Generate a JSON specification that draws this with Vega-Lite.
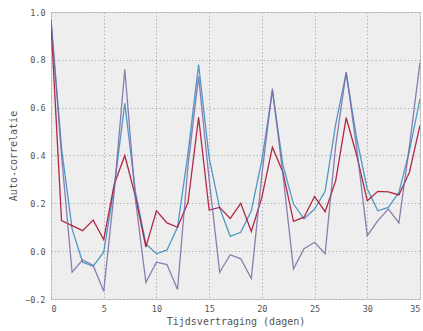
{
  "$schema": "https://vega.github.io/schema/vega-lite/v6.json",
  "autosize": {"type": "none"},
  "padding": {"left": 51, "top": 12, "right": 3, "bottom": 32},
  "width": 369,
  "height": 287,
  "background": "white",
  "config": {
    "view": {"fill": "#eeeeee", "stroke": "#cccccc", "strokeWidth": 1},
    "axis": {
      "labelFont": "DejaVu Sans Mono",
      "titleFont": "DejaVu Sans Mono",
      "labelColor": "#555555",
      "titleColor": "#555555",
      "labelFontSize": 8.5,
      "titleFontSize": 10,
      "titleFontWeight": "normal",
      "domain": false,
      "ticks": false,
      "gridColor": "#a8a8a8",
      "gridDash": [1.2, 2.4],
      "gridWidth": 1,
      "gridOpacity": 1
    }
  },
  "datasets": {
    "acf": [
      {"lag": 0, "s": "A", "v": 0.965}, {"lag": 1, "s": "A", "v": 0.43}, {"lag": 2, "s": "A", "v": 0.093}, {"lag": 3, "s": "A", "v": -0.046}, {"lag": 4, "s": "A", "v": -0.063}, {"lag": 5, "s": "A", "v": -0.004}, {"lag": 6, "s": "A", "v": 0.27}, {"lag": 7, "s": "A", "v": 0.618}, {"lag": 8, "s": "A", "v": 0.25}, {"lag": 9, "s": "A", "v": 0.03}, {"lag": 10, "s": "A", "v": -0.011}, {"lag": 11, "s": "A", "v": 0.005}, {"lag": 12, "s": "A", "v": 0.1}, {"lag": 13, "s": "A", "v": 0.41}, {"lag": 14, "s": "A", "v": 0.78}, {"lag": 15, "s": "A", "v": 0.39}, {"lag": 16, "s": "A", "v": 0.18}, {"lag": 17, "s": "A", "v": 0.062}, {"lag": 18, "s": "A", "v": 0.079}, {"lag": 19, "s": "A", "v": 0.169}, {"lag": 20, "s": "A", "v": 0.38}, {"lag": 21, "s": "A", "v": 0.67}, {"lag": 22, "s": "A", "v": 0.36}, {"lag": 23, "s": "A", "v": 0.197}, {"lag": 24, "s": "A", "v": 0.135}, {"lag": 25, "s": "A", "v": 0.176}, {"lag": 26, "s": "A", "v": 0.25}, {"lag": 27, "s": "A", "v": 0.53}, {"lag": 28, "s": "A", "v": 0.745}, {"lag": 29, "s": "A", "v": 0.47}, {"lag": 30, "s": "A", "v": 0.26}, {"lag": 31, "s": "A", "v": 0.169}, {"lag": 32, "s": "A", "v": 0.183}, {"lag": 33, "s": "A", "v": 0.246}, {"lag": 34, "s": "A", "v": 0.42}, {"lag": 35, "s": "A", "v": 0.637},
      {"lag": 0, "s": "B", "v": 0.955}, {"lag": 1, "s": "B", "v": 0.128}, {"lag": 2, "s": "B", "v": 0.107}, {"lag": 3, "s": "B", "v": 0.086}, {"lag": 4, "s": "B", "v": 0.13}, {"lag": 5, "s": "B", "v": 0.048}, {"lag": 6, "s": "B", "v": 0.28}, {"lag": 7, "s": "B", "v": 0.40}, {"lag": 8, "s": "B", "v": 0.23}, {"lag": 9, "s": "B", "v": 0.017}, {"lag": 10, "s": "B", "v": 0.169}, {"lag": 11, "s": "B", "v": 0.118}, {"lag": 12, "s": "B", "v": 0.1}, {"lag": 13, "s": "B", "v": 0.204}, {"lag": 14, "s": "B", "v": 0.56}, {"lag": 15, "s": "B", "v": 0.172}, {"lag": 16, "s": "B", "v": 0.183}, {"lag": 17, "s": "B", "v": 0.137}, {"lag": 18, "s": "B", "v": 0.2}, {"lag": 19, "s": "B", "v": 0.082}, {"lag": 20, "s": "B", "v": 0.225}, {"lag": 21, "s": "B", "v": 0.435}, {"lag": 22, "s": "B", "v": 0.33}, {"lag": 23, "s": "B", "v": 0.125}, {"lag": 24, "s": "B", "v": 0.142}, {"lag": 25, "s": "B", "v": 0.229}, {"lag": 26, "s": "B", "v": 0.165}, {"lag": 27, "s": "B", "v": 0.294}, {"lag": 28, "s": "B", "v": 0.558}, {"lag": 29, "s": "B", "v": 0.40}, {"lag": 30, "s": "B", "v": 0.211}, {"lag": 31, "s": "B", "v": 0.25}, {"lag": 32, "s": "B", "v": 0.248}, {"lag": 33, "s": "B", "v": 0.235}, {"lag": 34, "s": "B", "v": 0.33}, {"lag": 35, "s": "B", "v": 0.526},
      {"lag": 0, "s": "C", "v": 0.97}, {"lag": 1, "s": "C", "v": 0.40}, {"lag": 2, "s": "C", "v": -0.088}, {"lag": 3, "s": "C", "v": -0.036}, {"lag": 4, "s": "C", "v": -0.06}, {"lag": 5, "s": "C", "v": -0.168}, {"lag": 6, "s": "C", "v": 0.25}, {"lag": 7, "s": "C", "v": 0.76}, {"lag": 8, "s": "C", "v": 0.22}, {"lag": 9, "s": "C", "v": -0.13}, {"lag": 10, "s": "C", "v": -0.046}, {"lag": 11, "s": "C", "v": -0.056}, {"lag": 12, "s": "C", "v": -0.16}, {"lag": 13, "s": "C", "v": 0.36}, {"lag": 14, "s": "C", "v": 0.73}, {"lag": 15, "s": "C", "v": 0.30}, {"lag": 16, "s": "C", "v": -0.088}, {"lag": 17, "s": "C", "v": -0.015}, {"lag": 18, "s": "C", "v": -0.032}, {"lag": 19, "s": "C", "v": -0.115}, {"lag": 20, "s": "C", "v": 0.32}, {"lag": 21, "s": "C", "v": 0.68}, {"lag": 22, "s": "C", "v": 0.32}, {"lag": 23, "s": "C", "v": -0.074}, {"lag": 24, "s": "C", "v": 0.01}, {"lag": 25, "s": "C", "v": 0.037}, {"lag": 26, "s": "C", "v": -0.011}, {"lag": 27, "s": "C", "v": 0.44}, {"lag": 28, "s": "C", "v": 0.75}, {"lag": 29, "s": "C", "v": 0.43}, {"lag": 30, "s": "C", "v": 0.065}, {"lag": 31, "s": "C", "v": 0.128}, {"lag": 32, "s": "C", "v": 0.176}, {"lag": 33, "s": "C", "v": 0.118}, {"lag": 34, "s": "C", "v": 0.44}, {"lag": 35, "s": "C", "v": 0.79}
    ]
  },
  "data": {"name": "acf"},
  "mark": {"type": "line", "strokeWidth": 1.3, "clip": true},
  "encoding": {
    "x": {
      "field": "lag", "type": "quantitative",
      "scale": {"domain": [0, 35], "nice": false, "zero": false},
      "axis": {"values": [0, 5, 10, 15, 20, 25, 30, 35], "title": "Tijdsvertraging (dagen)", "labelPadding": 5, "titlePadding": 4}
    },
    "y": {
      "field": "v", "type": "quantitative",
      "scale": {"domain": [-0.2, 1.0], "nice": false, "zero": false},
      "axis": {"values": [-0.2, 0, 0.2, 0.4, 0.6, 0.8, 1.0], "format": ".1f", "title": "Auto-correlatie", "labelPadding": 6, "titlePadding": 6}
    },
    "color": {
      "field": "s", "type": "nominal", "legend": null,
      "scale": {"domain": ["A", "B", "C"], "range": ["#348ABD", "#A60628", "#7A68A6"]}
    },
    "opacity": {"value": 0.85},
    "order": {"field": "lag"}
  }
}
